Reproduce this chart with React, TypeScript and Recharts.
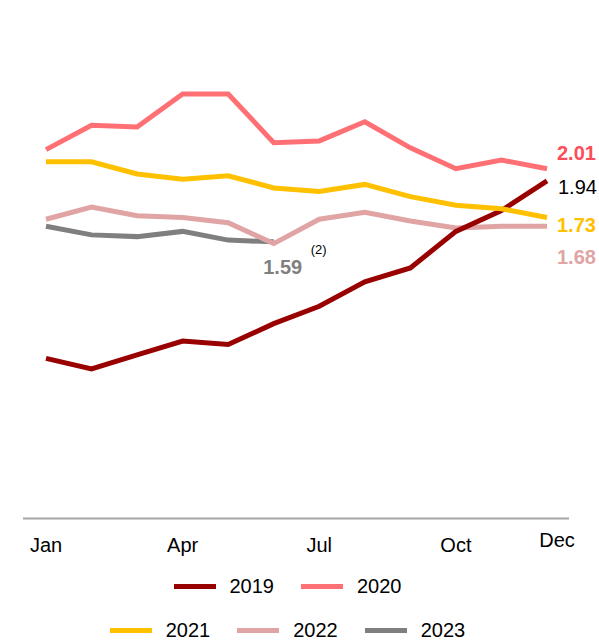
import { LineChart, Line, XAxis, YAxis, LabelList } from 'recharts'

const months = ['Jan', 'Feb', 'Mar', 'Apr', 'May', 'Jun', 'Jul', 'Aug', 'Sep', 'Oct', 'Nov', 'Dec']
const tickMonths = ['Jan', 'Apr', 'Jul', 'Oct', 'Dec']

const s2019 = [0.92, 0.86, 0.94, 1.02, 1.0, 1.12, 1.22, 1.36, 1.44, 1.65, 1.77, 1.94]
const s2020 = [2.12, 2.26, 2.25, 2.44, 2.44, 2.16, 2.17, 2.28, 2.13, 2.01, 2.06, 2.01]
const s2021 = [2.05, 2.05, 1.98, 1.95, 1.97, 1.9, 1.88, 1.92, 1.85, 1.8, 1.78, 1.73]
const s2022 = [1.72, 1.79, 1.74, 1.73, 1.7, 1.58, 1.72, 1.76, 1.71, 1.67, 1.68, 1.68]
const s2023 = [1.68, 1.63, 1.62, 1.65, 1.6, 1.59]

const FONT = '"Liberation Sans", Arial, sans-serif'

const series = [
  { key: 'y2023', name: '2023', values: s2023, color: '#7f7f7f', labelColor: '#7f7f7f', bold: true },
  { key: 'y2022', name: '2022', values: s2022, color: '#e0a4a5', labelColor: '#e0a4a5', bold: true },
  { key: 'y2019', name: '2019', values: s2019, color: '#990000', labelColor: '#000000', bold: false },
  { key: 'y2020', name: '2020', values: s2020, color: '#ff7074', labelColor: '#ff4c58', bold: true },
  { key: 'y2021', name: '2021', values: s2021, color: '#ffc000', labelColor: '#ffc000', bold: true },
]

// label offsets from the last point of each series
const labelOffset: Record<string, { dx: number; dy: number; anchor: string }> = {
  y2019: { dx: 11, dy: 6, anchor: 'start' },
  y2020: { dx: 10, dy: -16, anchor: 'start' },
  y2021: { dx: 10, dy: 8, anchor: 'start' },
  y2022: { dx: 10, dy: 31, anchor: 'start' },
  y2023: { dx: 9, dy: 25, anchor: 'middle' },
}

const legendRows = [['2019', '2020'], ['2021', '2022', '2023']]

const data = months.map((m, i) => {
  const row: Record<string, string | number | null> = { month: m }
  series.forEach((s) => {
    row[s.key] = i < s.values.length ? s.values[i] : null
  })
  return row
})

function MonthTick(props: any) {
  const { x, y, payload } = props
  if (!tickMonths.includes(payload.value)) return null
  const isDec = payload.value === 'Dec'
  return (
    <text
      x={x + (isDec ? 10 : 0)}
      y={y + (isDec ? 13 : 18)}
      textAnchor="middle"
      dominantBaseline="central"
      fontFamily={FONT}
      fontSize={20}
      fill="#000"
    >
      {payload.value}
    </text>
  )
}

function endLabel(s: (typeof series)[number]) {
  const last = s.values.length - 1
  const off = labelOffset[s.key]
  return (props: any) => {
    const { x, y, index, value } = props
    if (index !== last || value == null) return null
    return (
      <g>
        <text
          x={x + off.dx}
          y={y + off.dy}
          textAnchor={off.anchor}
          dominantBaseline="central"
          fontFamily={FONT}
          fontSize={20}
          fontWeight={s.bold ? 700 : 400}
          fill={s.labelColor}
        >
          {Number(value).toFixed(2)}
        </text>
        {s.key === 'y2023' && (
          <text
            x={x + 45}
            y={y + 8}
            textAnchor="middle"
            dominantBaseline="central"
            fontFamily={FONT}
            fontSize={13}
            fill="#000"
          >
            (2)
          </text>
        )}
      </g>
    )
  }
}

export default function App() {
  const byName = Object.fromEntries(series.map((s) => [s.name, s]))
  return (
    <div style={{ position: 'fixed', left: 0, top: 0, width: 599, height: 640, overflow: 'hidden', background: '#fff' }}>
      <LineChart
        width={599}
        height={640}
        data={data}
        margin={{ top: 83.5, right: 30, bottom: 91.5, left: 23 }}
      >
        <XAxis
          dataKey="month"
          interval={0}
          tickLine={false}
          axisLine={{ stroke: '#a6a6a6', strokeWidth: 2 }}
          tick={<MonthTick />}
          padding={{ left: 23, right: 22 }}
        />
        <YAxis hide domain={[0, 2.5]} />
        {series.map((s) => (
          <Line
            key={s.key}
            dataKey={s.key}
            name={s.name}
            stroke={s.color}
            strokeWidth={5}
            dot={false}
            activeDot={false}
            isAnimationActive={false}
            connectNulls={false}
          >
            <LabelList dataKey={s.key} content={endLabel(s)} />
          </Line>
        ))}
      </LineChart>
      {legendRows.map((row, r) => (
        <div
          key={r}
          style={{
            position: 'absolute',
            left: 0,
            width: 575,
            top: r === 0 ? 574 : 618,
            display: 'flex',
            justifyContent: 'center',
            gap: 27,
            fontFamily: FONT,
            fontSize: 20,
            lineHeight: '24px',
          }}
        >
          {row.map((name) => (
            <div key={name} style={{ display: 'flex', alignItems: 'center', gap: 14 }}>
              <span style={{ display: 'inline-block', width: 42, height: 5, background: byName[name].color }} />
              <span>{name}</span>
            </div>
          ))}
        </div>
      ))}
    </div>
  )
}
